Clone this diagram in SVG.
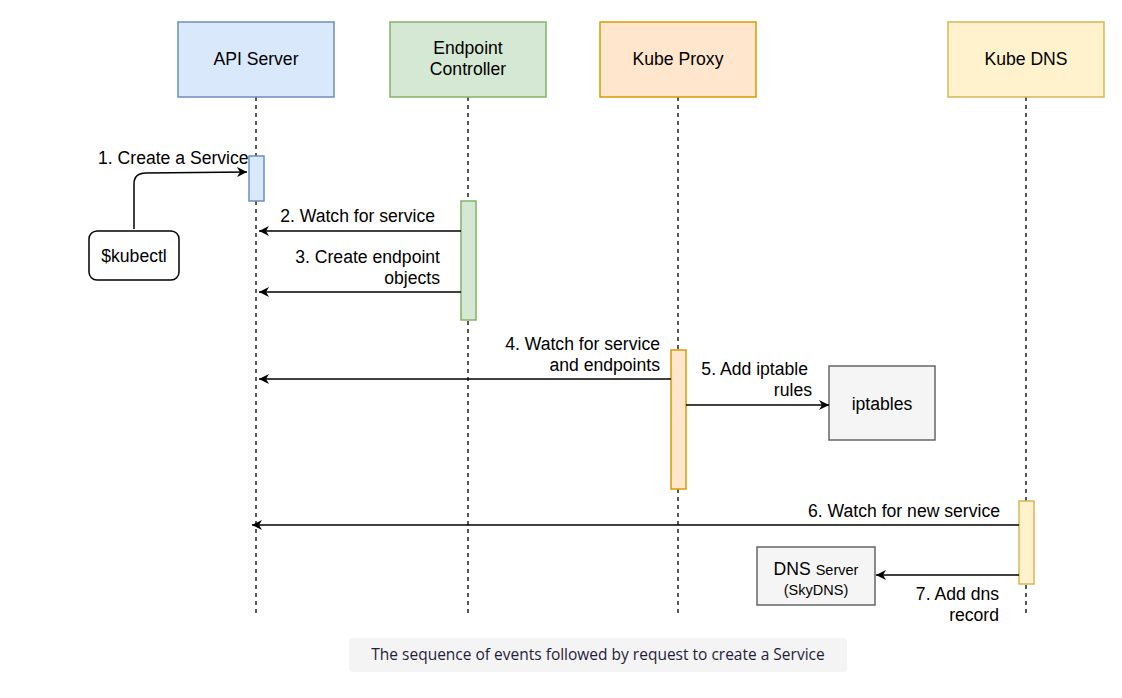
<svg xmlns="http://www.w3.org/2000/svg" width="1122" height="698" viewBox="0 0 1122 698">
<style>
text{font-family:"Liberation Sans",Arial,sans-serif;font-size:17.6px;fill:#000}
.lbl{text-anchor:end}
.mid{text-anchor:middle}
.life{stroke:#000;stroke-width:1.3;stroke-dasharray:4 4;fill:none}
.msg{stroke:#000;stroke-width:1.5;fill:none}
.gray{fill:#f5f5f5;stroke:#666;stroke-width:1.5}
</style>
<defs>
<marker id="ah" markerWidth="11" markerHeight="10" refX="10" refY="5" orient="auto" markerUnits="userSpaceOnUse">
<path d="M0,0 L10,5 L0,10 L3,5 z" fill="#000"/>
</marker>
</defs>
<rect width="1122" height="698" fill="#fff"/>
<g id="lifelines">
<line class="life" x1="256" y1="97" x2="256" y2="617"/>
<line class="life" x1="468" y1="97" x2="468" y2="617"/>
<line class="life" x1="678" y1="97" x2="678" y2="617"/>
<line class="life" x1="1026" y1="97" x2="1026" y2="617"/>
</g>
<g id="api-server">
<rect x="178" y="22" width="156" height="75" fill="#dae8fc" stroke="#6c8ebf" stroke-width="1.5"/>
<text class="mid" x="256" y="65">API Server</text>
<rect x="249" y="156" width="15" height="45" fill="#dae8fc" stroke="#6c8ebf" stroke-width="1.5"/>
</g>
<g id="endpoint-controller">
<rect x="390" y="22" width="156" height="75" fill="#d5e8d4" stroke="#82b366" stroke-width="1.5"/>
<text class="mid" x="468" y="54">Endpoint</text>
<text class="mid" x="468" y="75">Controller</text>
<rect x="461" y="201" width="15" height="119" fill="#d5e8d4" stroke="#82b366" stroke-width="1.5"/>
</g>
<g id="kube-proxy">
<rect x="600" y="22" width="156" height="75" fill="#ffe6cc" stroke="#d79b00" stroke-width="1.5"/>
<text class="mid" x="678" y="65">Kube Proxy</text>
<rect x="671" y="350" width="15" height="139" fill="#ffe6cc" stroke="#d79b00" stroke-width="1.5"/>
</g>
<g id="kube-dns">
<rect x="948" y="22" width="156" height="75" fill="#fff2cc" stroke="#d6b656" stroke-width="1.5"/>
<text class="mid" x="1026" y="65">Kube DNS</text>
<rect x="1019" y="501" width="15" height="83" fill="#fff2cc" stroke="#d6b656" stroke-width="1.5"/>
</g>
<g id="kubectl">
<rect x="89" y="231" width="90" height="49" rx="8" fill="#fff" stroke="#000" stroke-width="1.5"/>
<text class="mid" x="134" y="262">$kubectl</text>
</g>
<g id="iptables">
<rect class="gray" x="829" y="366" width="106" height="74"/>
<text class="mid" x="882" y="410">iptables</text>
</g>
<g id="dns-server">
<rect class="gray" x="757" y="547" width="118" height="58"/>
<text class="mid" x="816" y="575"><tspan>DNS </tspan><tspan style="font-size:14.5px">Server</tspan></text>
<text class="mid" x="816" y="595" style="font-size:14.5px">(SkyDNS)</text>
</g>
<g id="connectors">
<path class="msg" d="M134,229 V184 Q134,173 146,173 L247,172" marker-end="url(#ah)"/>
<line class="msg" x1="461" y1="231" x2="259" y2="231" marker-end="url(#ah)"/>
<line class="msg" x1="461" y1="292" x2="259" y2="292" marker-end="url(#ah)"/>
<line class="msg" x1="671" y1="379" x2="259" y2="379" marker-end="url(#ah)"/>
<line class="msg" x1="686" y1="405" x2="829" y2="405" marker-end="url(#ah)"/>
<line class="msg" x1="1019" y1="525" x2="252" y2="525" marker-end="url(#ah)"/>
<line class="msg" x1="1019" y1="575" x2="876" y2="575" marker-end="url(#ah)"/>
</g>
<g id="labels">
<text x="98" y="164">1. Create a Service</text>
<text class="lbl" x="435" y="222">2. Watch for service</text>
<text class="lbl" x="440" y="263">3. Create endpoint</text>
<text class="lbl" x="440" y="284">objects</text>
<text class="lbl" x="660" y="350">4. Watch for service</text>
<text class="lbl" x="660" y="371">and endpoints</text>
<text class="lbl" x="808" y="375">5. Add iptable</text>
<text class="lbl" x="812" y="396">rules</text>
<text class="lbl" x="1000" y="517">6. Watch for new service</text>
<text class="lbl" x="999" y="600">7. Add dns</text>
<text class="lbl" x="999" y="621">record</text>
</g>
<g id="caption">
<rect x="349" y="638" width="498" height="34" rx="4" fill="#f4f4f4"/>
<text class="mid" x="598" y="660" style="font-family:'Open Sans',Lato,sans-serif;font-size:15.5px;fill:#1f1d3a">The sequence of events followed by request to create a Service</text>
</g>
</svg>
